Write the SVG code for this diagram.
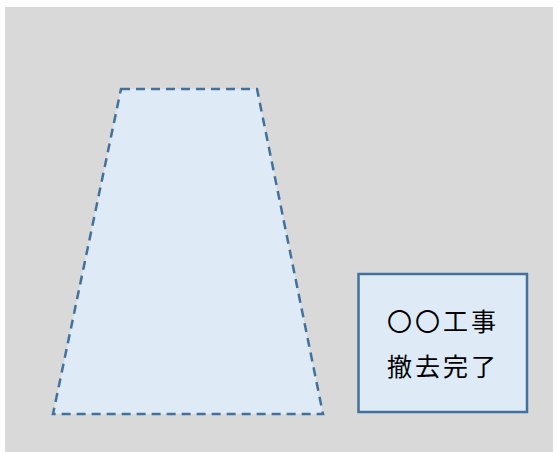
<svg xmlns="http://www.w3.org/2000/svg" width="558" height="452" viewBox="0 0 558 452">
<style>
.bg{fill:#d9d9d9}
.shape{fill:#deebf7;stroke:#41719c;stroke-width:2.5}
.dash{stroke-dasharray:9 6}
.lbl{font-family:"Noto Sans CJK JP","Noto Sans CJK SC",sans-serif;font-size:25px;fill:#000;letter-spacing:3px}
</style>
<rect class="bg" x="5" y="7" width="548" height="445"/>
<g id="trapezoid">
<polygon class="shape dash" points="121,89 257,89 323,414 53,414"/>
</g>
<g id="label-box">
<rect class="shape" x="358.5" y="274" width="168.5" height="138" stroke-width="2"/>
<text class="lbl" x="443" y="331" text-anchor="middle">〇〇工事</text>
<text class="lbl" x="443" y="376" text-anchor="middle">撤去完了</text>
</g>
<g id="connectors"/>
</svg>
